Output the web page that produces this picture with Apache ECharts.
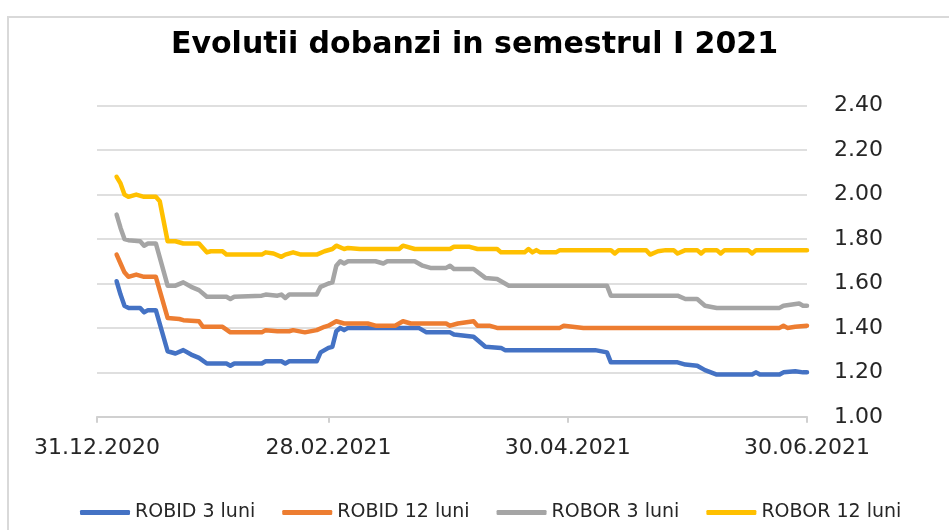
<!DOCTYPE html>
<html>
<head>
<meta charset="utf-8">
<script src="https://cdn.jsdelivr.net/npm/echarts@6/dist/echarts.min.js"></script>
<style>
  html, body { margin: 0; padding: 0; background: #ffffff; }
  #chart { width: 949px; height: 530px; }
</style>
</head>
<body>
<div id="chart"></div>
<script>
// x = zile de la 31.12.2020
var xTickDays = [0, 59, 120, 181];
var yMin = 1.0, yMax = 2.4, yStep = 0.2;
var seriesNames = ['ROBID 3 luni', 'ROBID 12 luni', 'ROBOR 3 luni', 'ROBOR 12 luni'];
var seriesColors = ['#4472C4', '#ED7D31', '#A5A5A5', '#FFC000'];

var robid3m = [
  [5,1.61],[6,1.55],[7,1.50],[8,1.49],[11,1.49],[12,1.47],[13,1.48],[15,1.48],[18,1.295],[20,1.285],
  [22,1.30],[24,1.28],[26,1.265],[28,1.24],[33,1.24],[34,1.23],[35,1.24],[42,1.24],[43,1.25],[47,1.25],
  [48,1.24],[49,1.25],[56,1.25],[57,1.29],[59,1.31],[60,1.315],[61,1.385],[62,1.40],[63,1.39],[64,1.40],
  [82,1.40],[84,1.38],[90,1.38],[91,1.37],[96,1.36],[99,1.315],[103,1.31],[104,1.30],[127,1.30],[130,1.29],
  [131,1.245],[148,1.245],[150,1.235],[153,1.23],[155,1.21],[158,1.19],[167,1.19],[168,1.20],[169,1.19],
  [174,1.19],[175,1.20],[178,1.205],[180,1.20],[181,1.20]
];
var robid12m = [
  [5,1.73],[6,1.69],[7,1.65],[8,1.63],[10,1.64],[12,1.63],[15,1.63],[18,1.445],[21,1.44],[22,1.435],
  [26,1.43],[27,1.405],[32,1.405],[34,1.38],[42,1.38],[43,1.39],[46,1.385],[49,1.385],[50,1.39],[53,1.38],
  [56,1.39],[58,1.405],[59,1.41],[61,1.43],[63,1.42],[69,1.42],[71,1.41],[76,1.41],[78,1.43],[80,1.42],
  [89,1.42],[90,1.41],[92,1.42],[96,1.43],[97,1.41],[100,1.41],[102,1.40],[118,1.40],[119,1.41],[124,1.40],
  [174,1.40],[175,1.41],[176,1.40],[178,1.405],[181,1.41]
];
var robor3m = [
  [5,1.91],[6,1.85],[7,1.80],[8,1.795],[11,1.79],[12,1.77],[13,1.78],[15,1.78],[18,1.59],[20,1.59],
  [22,1.605],[24,1.585],[26,1.57],[28,1.54],[33,1.54],[34,1.53],[35,1.54],[42,1.545],[43,1.55],[46,1.545],
  [47,1.55],[48,1.535],[49,1.55],[56,1.55],[57,1.585],[59,1.60],[60,1.605],[61,1.68],[62,1.70],[63,1.69],
  [64,1.70],[71,1.70],[73,1.69],[74,1.70],[81,1.70],[83,1.68],[85,1.67],[89,1.67],[90,1.68],[91,1.665],
  [96,1.665],[99,1.625],[102,1.62],[103,1.61],[105,1.59],[130,1.59],[131,1.545],[148,1.545],[150,1.53],
  [153,1.53],[155,1.50],[158,1.49],[174,1.49],[175,1.50],[179,1.51],[180,1.50],[181,1.50]
];
var robor12m = [
  [5,2.08],[6,2.05],[7,2.00],[8,1.99],[10,2.00],[12,1.99],[15,1.99],[16,1.97],[18,1.79],[20,1.79],
  [22,1.78],[26,1.78],[28,1.74],[29,1.745],[32,1.745],[33,1.73],[42,1.73],[43,1.74],[45,1.735],[47,1.72],
  [48,1.73],[50,1.74],[52,1.73],[56,1.73],[58,1.745],[60,1.755],[61,1.77],[63,1.755],[64,1.76],[67,1.755],
  [77,1.755],[78,1.77],[81,1.755],[90,1.755],[91,1.765],[95,1.765],[97,1.755],[102,1.755],[103,1.74],[109,1.74],
  [110,1.755],[111,1.74],[112,1.75],[113,1.74],[117,1.74],[118,1.75],[131,1.75],[132,1.735],[133,1.75],[140,1.75],
  [141,1.73],[143,1.745],[145,1.75],[147,1.75],[148,1.735],[150,1.75],[153,1.75],[154,1.735],[155,1.75],[158,1.75],
  [159,1.735],[160,1.75],[166,1.75],[167,1.735],[168,1.75],[181,1.75]
];
var seriesData = [robid3m, robid12m, robor3m, robor12m];

function dayToLabel(d) {
  var dt = new Date(Date.UTC(2020, 11, 31) + d * 86400000);
  var dd = ('0' + dt.getUTCDate()).slice(-2);
  var mm = ('0' + (dt.getUTCMonth() + 1)).slice(-2);
  return dd + '.' + mm + '.' + dt.getUTCFullYear();
}

var myChart = echarts.init(document.getElementById('chart'), null, { renderer: 'canvas' });
myChart.setOption({
  animation: false,
  backgroundColor: '#ffffff',
  textStyle: { fontFamily: 'DejaVu Sans' },
  title: {
    text: 'Evolutii dobanzi in semestrul I 2021',
    left: 'center',
    top: 30,
    padding: [0, 0, 0, 23],
    textStyle: { fontFamily: 'DejaVu Sans', fontWeight: 'bold', fontSize: 30, color: '#000000' }
  },
  graphic: [{
    type: 'rect',
    shape: { x: 8, y: 17, width: 1200, height: 800 },
    style: { fill: 'none', stroke: '#d9d9d9', lineWidth: 2 },
    silent: true
  }],
  legend: {
    left: 75,
    top: 498,
    icon: 'roundRect',
    itemWidth: 50,
    itemHeight: 5,
    itemGap: 27,
    textStyle: { fontSize: 19, color: '#262626' },
    data: seriesNames
  },
  grid: {
    left: 97,
    right: 142,
    top: 105.7,
    bottom: 113.2,
    containLabel: false,
    outerBoundsMode: 'none'
  },
  xAxis: {
    type: 'value',
    min: 0,
    max: 181,
    splitLine: { show: false },
    axisLine: { show: true, lineStyle: { color: '#d0d0d0', width: 2 } },
    axisTick: { show: true, customValues: xTickDays, length: 6, lineStyle: { color: '#d0d0d0', width: 2 } },
    axisLabel: {
      customValues: xTickDays,
      margin: 20,
      fontSize: 22,
      color: '#262626',
      formatter: function (v) { return dayToLabel(v); }
    }
  },
  yAxis: {
    type: 'value',
    position: 'right',
    min: yMin,
    max: yMax,
    interval: yStep,
    axisLine: { show: false },
    axisTick: { show: false },
    splitLine: { lineStyle: { color: '#d4d4d4', width: 1.5 } },
    axisLabel: {
      margin: 27,
      fontSize: 22,
      color: '#262626',
      formatter: function (v) { return v.toFixed(2); }
    }
  },
  series: seriesData.map(function (d, i) {
    return {
      name: seriesNames[i],
      type: 'line',
      data: d,
      symbol: 'none',
      showSymbol: false,
      color: seriesColors[i],
      lineStyle: { width: 4.5, color: seriesColors[i], cap: 'round', join: 'round' }
    };
  })
});
</script>
</body>
</html>
